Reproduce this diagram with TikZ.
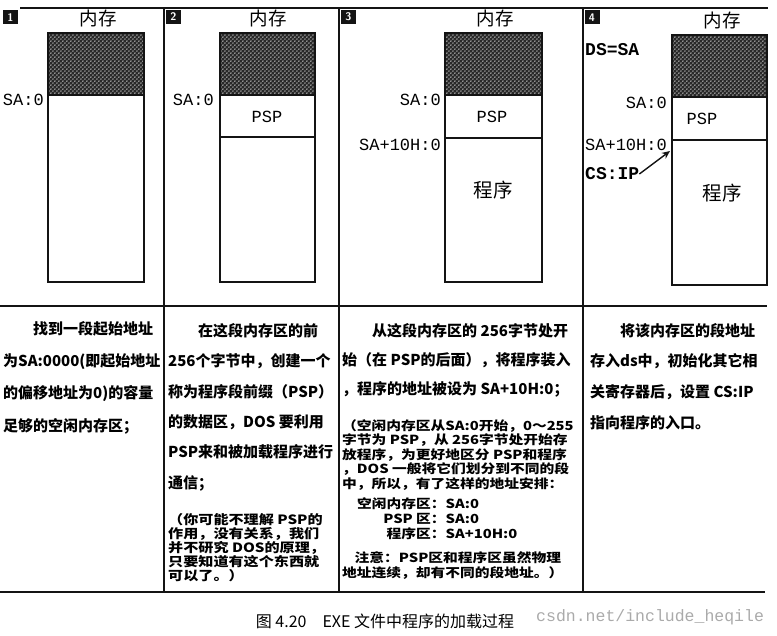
\documentclass[tikz,border=0pt]{standalone}
\usepackage{fontspec}
\usepackage{tikz}
\usetikzlibrary{arrows.meta,patterns,positioning}
\newfontfamily\cjk{Noto Sans CJK SC}
\newfontfamily\cjkwide[FakeStretch=1.18]{Noto Sans CJK SC}
\newfontfamily\monof{Liberation Mono}
\definecolor{ink}{RGB}{20,20,20}
\definecolor{hatchc}{RGB}{40,40,40}
\definecolor{wmark}{RGB}{170,170,170}
\pgfdeclarepatternformonly{memdots}{\pgfpointorigin}{\pgfpoint{4.4pt}{4.4pt}}{\pgfpoint{4.4pt}{4.4pt}}{
  \pgfpathcircle{\pgfpoint{1.1pt}{1.1pt}}{0.8pt}
  \pgfpathcircle{\pgfpoint{3.3pt}{3.3pt}}{0.8pt}
  \pgfusepath{fill}}

\tikzset{
  memcol/.style={draw=ink,line width=1.3pt},
  hatchfill/.style={pattern=memdots,pattern color=white},
  addr/.style={anchor=east,inner sep=0pt,font=\monof\fontsize{17}{17}\selectfont},
  reg/.style={anchor=west,inner sep=0pt,font=\monof\bfseries\fontsize{18}{18}\selectfont},
  regionlbl/.style={inner sep=0pt,font=\monof\fontsize{17}{17}\selectfont},
  marker/.style={fill=ink,text=white,inner sep=0pt,minimum width=15pt,minimum height=14pt,
    font=\sffamily\bfseries\fontsize{11}{11}\selectfont},
  title/.style={inner sep=0pt,font=\cjk\fontsize{18.5}{18.5}\selectfont},
  para/.style={anchor=north west,inner sep=0pt,align=left},
  divider/.style={ink,line width=2.4pt},
  rule/.style={ink,line width=1.4pt}
}

\begin{document}
\begin{tikzpicture}[x=1pt,y=-1pt]
  \useasboundingbox (0,0) rectangle (777,636);
  % ---- frame ----
  \draw[rule] (20,8) -- (768,8);
  \draw[rule] (0,306) -- (767,306);
  \draw[rule] (0,592) -- (765,592);
  \foreach \x in {164,339,583}{
      \draw[divider] (\x,8) -- (\x,592);}
  % ---- panel 1 ----
  \node[marker] (m1) at (10.5,17.5) {1};
  \node[title] (t1) at (98,18) {内存};
  \fill[hatchc] (48,33) rectangle (144,95);
  \fill[hatchfill] (48,33) rectangle (144,95);
  \draw[memcol] (48,33) rectangle (144,282);
  \draw[memcol] (48,95) -- (144,95);
  \node[addr] (sa1) at (44,100) {SA:0};
  % ---- panel 2 ----
  \node[marker] (m2) at (173.5,17) {2};
  \node[title] (t2) at (268,18) {内存};
  \fill[hatchc] (220,33) rectangle (315,95);
  \fill[hatchfill] (220,33) rectangle (315,95);
  \draw[memcol] (220,33) rectangle (315,282);
  \draw[memcol] (220,95) -- (315,95) (220,137) -- (315,137);
  \node[regionlbl] (psp2) at (267,117) {PSP};
  \node[addr] (sa2) at (214,100) {SA:0};
  % ---- panel 3 ----
  \node[marker] (m3) at (348.5,17) {3};
  \node[title] (t3) at (495,18) {内存};
  \fill[hatchc] (445,33) rectangle (542,95);
  \fill[hatchfill] (445,33) rectangle (542,95);
  \draw[memcol] (445,33) rectangle (542,282);
  \draw[memcol] (445,95) -- (542,95) (445,138) -- (542,138);
  \node[regionlbl] (psp3) at (492,117) {PSP};
  \node[title,font=\cjk\fontsize{19.5}{19.5}\selectfont] (prog3) at (493,190) {程序};
  \node[addr] (sa3) at (441,100) {SA:0};
  \node[addr] (sa3b) at (441,145) {SA+10H:0};
  % ---- panel 4 ----
  \node[marker] (m4) at (592,17.5) {4};
  \node[title] (t4) at (722,20) {内存};
  \fill[hatchc] (672,35) rectangle (767,97);
  \fill[hatchfill] (672,35) rectangle (767,97);
  \draw[memcol] (672,35) rectangle (767,285);
  \draw[memcol] (672,97) -- (767,97) (672,140) -- (767,140);
  \node[regionlbl] (psp4) at (702,119) {PSP};
  \node[title,font=\cjk\fontsize{19.5}{19.5}\selectfont] (prog4) at (722,193) {程序};
  \node[reg] (ds) at (585,50) {DS=SA};
  \node[addr] (sa4) at (667,103) {SA:0};
  \node[addr] (sa4b) at (667,145) {SA+10H:0};
  \node[reg] (csip) at (585,174) {CS:IP};
  \coordinate (entry) at (670,151);
  \draw[ink,line width=1.4pt,-{Stealth[length=8pt,width=7pt]}] (csip.east) -- (entry);
  % ---- text under the panels ----
  \node[para,font=\cjk\bfseries\fontsize{15}{32.3}\selectfont] (p1) at (3,321)
      {\hspace*{2em}找到一段起始地址\\为SA:0000(即起始地址\\的偏移地址为0)的容量\\足够的空闲内存区；};
  \node[para,font=\cjk\bfseries\fontsize{15}{30.4}\selectfont] (p2a) at (168,323)
      {\hspace*{2em}在这段内存区的前\\256个字节中，创建一个\\称为程序段前缀（PSP）\\的数据区，DOS 要利用\\PSP来和被加载程序进行\\通信；};
  \node[para,font=\cjkwide\bfseries\fontsize{12.8}{14}\selectfont] (p2b) at (168,513)
      {（你可能不理解 PSP的\\作用，没有关系，我们\\并不研究 DOS的原理，\\只要知道有这个东西就\\可以了。）};
  \node[para,font=\cjk\bfseries\fontsize{15}{29}\selectfont] (p3a) at (342,323)
      {\hspace*{2em}从这段内存区的 256字节处开\\始（在 PSP的后面），将程序装入\\，程序的地址被设为 SA+10H:0；};
  \node[para,font=\cjkwide\bfseries\fontsize{12.5}{14.5}\selectfont] (p3b) at (342,419)
      {（空闲内存区从SA:0开始，0～255\\字节为 PSP，从 256字节处开始存\\放程序，为更好地区分 PSP和程序\\，DOS 一般将它们划分到不同的段\\中，所以，有了这样的地址安排：};
  \node[para,font=\cjkwide\bfseries\fontsize{12.5}{15}\selectfont] (p3c) at (357,497)
      {\begin{tabular}{@{}r@{}l@{}}空闲内存区&：SA:0\\PSP 区&：SA:0\\程序区&：SA+10H:0\end{tabular}};
  \node[para,font=\cjkwide\bfseries\fontsize{12.5}{15}\selectfont] (p3d) at (342,551)
      {\hspace*{1em}注意：PSP区和程序区虽然物理\\地址连续，却有不同的段地址。）};
  \node[para,font=\cjk\bfseries\fontsize{15}{30.7}\selectfont] (p4) at (590,323)
      {\hspace*{2em}将该内存区的段地址\\存入ds中，初始化其它相\\关寄存器后，设置 CS:IP\\指向程序的入口。};
  % ---- caption ----
  \node[inner sep=0pt,font=\cjk\fontsize{16}{16}\selectfont] (cap) at (385,621)
      {图 4.20\hspace{1em}EXE 文件中程序的加载过程};
  \node[anchor=west,inner sep=0pt,text=wmark,font=\monof\fontsize{16.5}{16.5}\selectfont] (wm) at (536,617)
      {csdn.net/include\_heqile};
\end{tikzpicture}
\end{document}
